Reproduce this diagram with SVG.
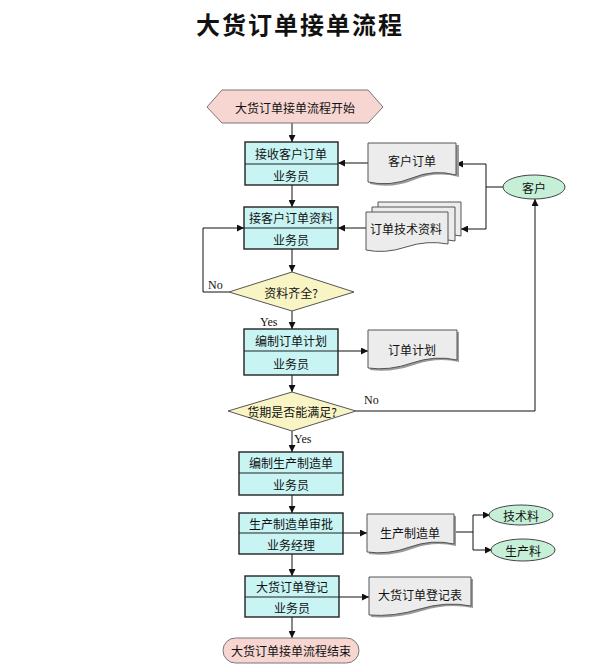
<svg xmlns="http://www.w3.org/2000/svg" width="600" height="664" viewBox="0 0 600 664">
<defs>
<marker id="ah" viewBox="0 0 10 10" refX="10" refY="5" markerWidth="7" markerHeight="7" markerUnits="userSpaceOnUse" orient="auto">
<path d="M0,0 L10,5 L0,10 Z" fill="#111"/>
</marker>
<style>
text{font-family:"Noto Sans CJK SC","Noto Sans",sans-serif;font-size:12px;fill:#111;text-anchor:middle;dominant-baseline:central}
.lat{font-family:"Liberation Serif",serif;font-size:12px;text-anchor:start}
.box{fill:#c8f4f4;stroke:#222;stroke-width:1.4}
.div{stroke:#222;stroke-width:1}
.dia{fill:#f8f4c4;stroke:#555;stroke-width:1}
.doc{fill:#ececec;stroke:#555;stroke-width:1}
.shd{fill:#9a9a9a}
.ell{fill:#c6efd8;stroke:#444;stroke-width:1}
.term{fill:#f7d6d2;stroke:#777;stroke-width:1}
.ln{fill:none;stroke:#111;stroke-width:1}
.ar{fill:none;stroke:#111;stroke-width:1;marker-end:url(#ah)}
</style>
</defs>
<rect width="600" height="664" fill="#fff"/>
<text x="300" y="23" style="font-size:24px;font-weight:bold;letter-spacing:2px">大货订单接单流程</text>

<g id="connectors">
<path class="ar" d="M292,123 V142"/>
<path class="ar" d="M292,185 V207"/>
<path class="ar" d="M292,249 V272"/>
<path class="ar" d="M229,292 H203 V228 H244"/>
<path class="ar" d="M292,311 V329"/>
<path class="ar" d="M338,351 H368"/>
<path class="ar" d="M292,375 V392"/>
<path class="ar" d="M356,411 H535 V199"/>
<path class="ar" d="M292,431 V452"/>
<path class="ar" d="M292,495 V513"/>
<path class="ar" d="M343,533 H367"/>
<path class="ln" d="M454,532 H473"/>
<path class="ar" d="M473,532 V515 H490"/>
<path class="ar" d="M473,532 V550 H492"/>
<path class="ar" d="M292,554 V576"/>
<path class="ar" d="M339,597 H369"/>
<path class="ar" d="M292,617 V638"/>
<path class="ln" d="M503,187 H486"/>
<path class="ar" d="M486,164 H456"/>
<path class="ln" d="M486,164 V229"/>
<path class="ar" d="M486,229 H461"/>
<path class="ar" d="M368,163 H338"/>
<path class="ar" d="M366,228 H338"/>
<text class="lat" x="208" y="285">No</text>
<text class="lat" x="260" y="322">Yes</text>
<text class="lat" x="364" y="400">No</text>
<text class="lat" x="294" y="439">Yes</text>
</g>

<g id="start">
<path class="term" d="M207,107 L222,90 H368 L383,107 L368,123 H222 Z"/>
<text x="295" y="107">大货订单接单流程开始</text>
</g>

<g id="n1">
<rect class="box" x="245" y="142" width="93" height="43"/>
<line class="div" x1="245" y1="164" x2="338" y2="164"/>
<text x="291" y="153">接收客户订单</text>
<text x="291" y="175">业务员</text>
</g>

<g id="n2">
<rect class="box" x="244" y="207" width="94" height="42"/>
<line class="div" x1="244" y1="228" x2="338" y2="228"/>
<text x="291" y="217">接客户订单资料</text>
<text x="291" y="239">业务员</text>
</g>

<g id="d1">
<path class="dia" d="M229,292 L292,272 L354,292 L292,311 Z"/>
<text x="291" y="292">资料齐全?</text>
</g>

<g id="n3">
<rect class="box" x="244" y="329" width="94" height="46"/>
<line class="div" x1="244" y1="351" x2="338" y2="351"/>
<text x="291" y="340">编制订单计划</text>
<text x="291" y="363">业务员</text>
</g>

<g id="d2">
<path class="dia" d="M228,411 L292,392 L356,411 L292,431 Z"/>
<text x="292" y="411">货期是否能满足?</text>
</g>

<g id="n4">
<rect class="box" x="239" y="452" width="104" height="43"/>
<line class="div" x1="239" y1="473" x2="343" y2="473"/>
<text x="291" y="462">编制生产制造单</text>
<text x="291" y="484">业务员</text>
</g>

<g id="n5">
<rect class="box" x="239" y="513" width="104" height="41"/>
<line class="div" x1="239" y1="533" x2="343" y2="533"/>
<text x="291" y="523">生产制造单审批</text>
<text x="291" y="544">业务经理</text>
</g>

<g id="n6">
<rect class="box" x="245" y="576" width="94" height="41"/>
<line class="div" x1="245" y1="597" x2="339" y2="597"/>
<text x="292" y="586">大货订单登记</text>
<text x="292" y="607">业务员</text>
</g>

<g id="end">
<rect class="term" x="223" y="638" width="136" height="25" rx="12.5"/>
<text x="291" y="650">大货订单接单流程结束</text>
</g>

<g id="doc-order">
<path class="shd" d="M370,145 H459 V177 Q436,171 414,180 T370,184 Z"/>
<path class="doc" d="M368,143 H456 V175 Q434,169 412,178 T368,182 Z"/>
<text x="412" y="160">客户订单</text>
</g>

<g id="doc-tech">
<path class="doc" d="M378,202 H461 V236 Q442,232 420,238 T378,240 Z"/>
<path class="doc" d="M372,207 H455 V241 Q436,237 414,243 T372,245 Z"/>
<path class="doc" d="M366,212 H448 V244 Q427,240 406,247 T366,250 Z"/>
<text x="406" y="228">订单技术资料</text>
</g>

<g id="doc-plan">
<path class="shd" d="M370,332 H459 V362 Q437,357 414,365 T370,370 Z"/>
<path class="doc" d="M368,330 H457 V360 Q435,355 412,363 T368,368 Z"/>
<text x="412" y="349">订单计划</text>
</g>

<g id="doc-prod">
<path class="shd" d="M369,516 H456 V546 Q434,541 412,549 T369,554 Z"/>
<path class="doc" d="M367,514 H454 V544 Q432,539 410,547 T367,552 Z"/>
<text x="410" y="532">生产制造单</text>
</g>

<g id="doc-reg">
<path class="shd" d="M371,579 H473 V608 Q448,603 422,611 T371,617 Z"/>
<path class="doc" d="M369,577 H471 V606 Q446,601 420,609 T369,615 Z"/>
<text x="420" y="594">大货订单登记表</text>
</g>

<g id="customer">
<ellipse class="ell" cx="534" cy="187" rx="31" ry="12"/>
<text x="534" y="187">客户</text>
</g>

<g id="tech">
<ellipse class="ell" cx="521" cy="515" rx="32" ry="10"/>
<text x="521" y="515">技术料</text>
</g>

<g id="prodmat">
<ellipse class="ell" cx="523" cy="550" rx="32" ry="11"/>
<text x="523" y="550">生产料</text>
</g>
</svg>
